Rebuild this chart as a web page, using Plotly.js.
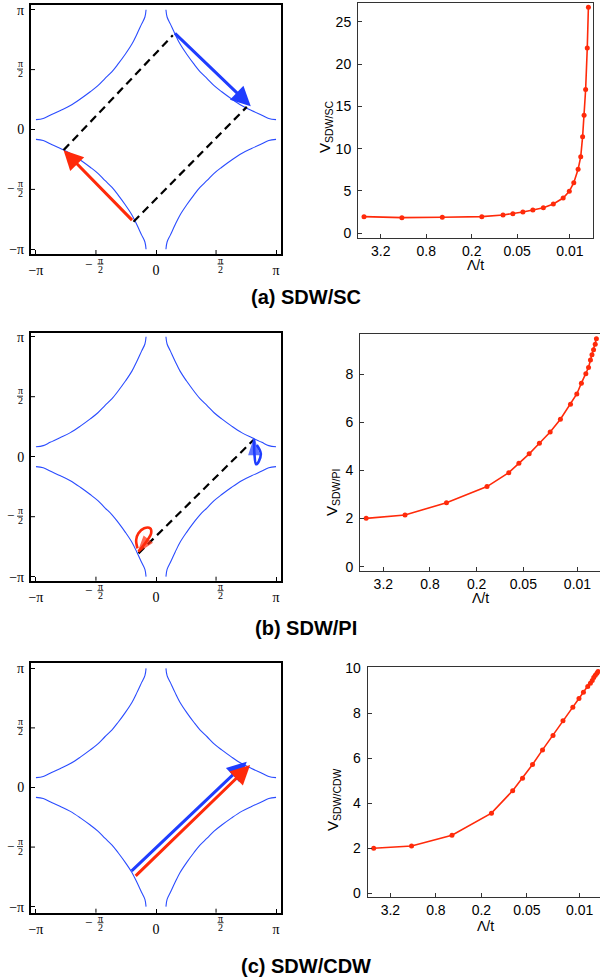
<!DOCTYPE html>
<html><head><meta charset="utf-8">
<script src="https://cdn.plot.ly/plotly-3.0.1.min.js"></script>
<style>body{margin:0;background:#fff}</style>
</head><body><div id="chart" style="width:600px;height:979px"></div>
<script>
// ---- Fermi-surface arc (upper-left quadrant) ----
const arcKx = [-3.14,-2.95,-2.77,-2.50,-2.24,-1.98,-1.72,-1.52,-1.337,-1.15,-0.99,-0.80,-0.63,-0.50,-0.375,-0.29,-0.26];
const arcKy = [0.26,0.29,0.375,0.50,0.63,0.80,0.99,1.15,1.337,1.52,1.72,1.98,2.24,2.50,2.77,2.95,3.14];

// ---- RG flow data ----
const lambdaT = [5.33,1.68,0.49,0.147,0.077,0.057,0.042,0.031,0.0225,0.0166,0.0123,0.0102,0.0089,0.0078,0.0072,0.0068,0.0065,0.0062,0.0059,0.0057];
const vSC  = [1.97,1.85,1.89,1.97,2.17,2.32,2.52,2.76,3.03,3.46,4.17,4.96,5.98,7.56,9.06,11.42,13.94,17.0,21.9,26.7];
const vPI  = [2.01,2.15,2.66,3.33,3.91,4.30,4.69,5.13,5.60,6.13,6.75,7.18,7.63,8.02,8.28,8.59,8.81,9.02,9.25,9.47];
const vCDW = [2.00,2.10,2.58,3.56,4.56,5.11,5.72,6.37,7.01,7.66,8.27,8.65,8.93,9.19,9.33,9.45,9.59,9.69,9.78,9.85];
const lamTickVals = [3.2,0.8,0.2,0.05,0.01];
const lamTickText = ['3.2','0.8','0.2','0.05','0.01'];
const vTicksA = [0,5,10,15,20,25];
const vTicksB = [0,2,4,6,8];
const vTicksC = [0,2,4,6,8,10];

// ---- arrows / nesting vectors (kx, ky) ----
// panel (a)
const aRedFrom = [-0.588,-2.417], aRedTo = [-2.418,-0.541];
const aBlueFrom = [0.457,2.557], aBlueTo = [2.479,0.611];
const aDash1X = [-2.418,0.44], aDash1Y = [-0.541,2.47];
const aDash2X = [-0.588,2.375], aDash2Y = [-2.417,0.593];
// panel (b): curled arrows, last point is the arrow tip
const bDashX = [-0.457,2.549], bDashY = [-2.53,0.436];
const bRedLoopX = [-0.485,-0.519,-0.459,-0.310,-0.153,-0.127,-0.25,-0.459];
const bRedLoopY = [-2.398,-2.181,-2.005,-1.874,-1.874,-2.005,-2.22,-2.487];
const bBlueLoopX = [2.637,2.741,2.690,2.618,2.574,2.566,2.566];
const bBlueLoopY = [0.306,0.089,-0.12,-0.199,0.089,0.30,0.455];
// panel (c)
const cBlueFrom = [-0.676,-2.236], cBlueTo = [2.375,0.681];
const cRedFrom = [-0.571,-2.368], cRedTo = [2.462,0.593];

const PI = Math.PI;
const BLUE = '#1f3dff', RED = '#ff2a0a', FSBLUE = '#2a4cff';
const W = 600, H = 979;
const xd = (a,b)=>[a/W,b/W];
const yd = (top,bot)=>[1-bot/H,1-top/H];

const traces = [];
function fermi(xa, ya){
  const signs = [[1,1],[-1,1],[1,-1],[-1,-1]];
  signs.forEach(s=>{
    traces.push({type:'scatter',mode:'lines',xaxis:xa,yaxis:ya,
      x:arcKx.map(v=>v*s[0]), y:arcKy.map(v=>v*s[1]),
      line:{color:FSBLUE,width:1.1,shape:'spline'},hoverinfo:'skip',showlegend:false});
  });
}
fermi('x','y'); fermi('x3','y3'); fermi('x5','y5');

function dash(xa,ya,X,Y){
  traces.push({type:'scatter',mode:'lines',xaxis:xa,yaxis:ya,x:X,y:Y,
    line:{color:'#000',width:2.2,dash:'8px,5px'},showlegend:false,hoverinfo:'skip'});
}
dash('x','y',aDash1X,aDash1Y); dash('x','y',aDash2X,aDash2Y);
dash('x3','y3',bDashX,bDashY);

function loop(xa,ya,X,Y,color){
  const n = X.length;
  traces.push({type:'scatter',mode:'lines+markers',xaxis:xa,yaxis:ya,x:X,y:Y,
    line:{color:color,width:2.6,shape:'spline',smoothing:1},
    marker:{symbol:'arrow',angleref:'previous',color:color,
      size:X.map((v,i)=>i===n-1?16:0),line:{width:1.5,color:color}},
    showlegend:false,hoverinfo:'skip'});
}
loop('x3','y3',bRedLoopX,bRedLoopY,RED);
loop('x3','y3',bBlueLoopX,bBlueLoopY,BLUE);

function flow(xa,ya,V){
  traces.push({type:'scatter',mode:'lines+markers',xaxis:xa,yaxis:ya,x:lambdaT,y:V,
    line:{color:RED,width:1.6},marker:{color:RED,size:5},showlegend:false,cliponaxis:true});
}
flow('x2','y2',vSC); flow('x4','y4',vPI); flow('x6','y6',vCDW);

const serif = 'Liberation Serif, Times New Roman, serif';
const sans = 'Liberation Sans, Arial, Helvetica, sans-serif';

function leftAxes(xdom, ydom, yr){
  const common = {showgrid:false,zeroline:false,showline:true,mirror:true,linecolor:'#000',linewidth:2,
    ticks:'inside',ticklen:4,tickwidth:1,tickcolor:'#000',
    tickvals:[-PI,0,PI],ticktext:['−π','0','π'],
    tickfont:{family:serif,size:14,color:'#000'},ticklabelstandoff:2,fixedrange:true};
  return [Object.assign({},common,{domain:xdom,range:[-3.27,3.27]}),
          Object.assign({},common,{domain:ydom,range:yr})];
}
function rightAxes(xdom, ydom, xr, yr, yt, closeRight){
  const x = {type:'log',domain:xdom,range:xr,showgrid:false,zeroline:false,showline:true,
    mirror:true,linecolor:'#333',linewidth:1,ticks:'inside',ticklen:4,tickcolor:'#333',
    tickvals:lamTickVals,ticktext:lamTickText,tickfont:{family:sans,size:14,color:'#000'},ticklabelstandoff:0};
  const y = {domain:ydom,range:yr,showgrid:false,zeroline:false,showline:true,
    mirror:closeRight,linecolor:'#333',linewidth:1,ticks:'inside',ticklen:4,tickcolor:'#333',
    tickvals:yt,tickfont:{family:sans,size:14,color:'#000'},ticklabelstandoff:3};
  return [x,y];
}
const [xa1,ya1] = leftAxes(xd(31,281), yd(5,254), [-3.265,3.265]);
const [xa3,ya3] = leftAxes(xd(31,281), yd(333.3,580.7), [-3.246,3.23]);
const [xa5,ya5] = leftAxes(xd(31,281), yd(663.3,912.7), [-3.30,3.273]);
const [xa2,ya2] = rightAxes(xd(358,592.7), yd(2.7,238), [Math.log10(6.4),Math.log10(0.005)], [-0.555,27.25], vTicksA, true);
const [xa4,ya4] = rightAxes(xd(360,600), yd(334.3,570.7), [Math.log10(6.4),Math.log10(0.00512)], [-0.166,9.66], vTicksB, false);
const [xa6,ya6] = rightAxes(xd(367.7,600), yd(667.3,897.3), [Math.log10(6.4),Math.log10(0.00537)], [-0.18,10.04], vTicksC, false);
xa2.anchor='y2'; ya2.anchor='x2'; xa4.anchor='y4'; ya4.anchor='x4'; xa6.anchor='y6'; ya6.anchor='x6';
xa1.anchor='y'; ya1.anchor='x'; xa3.anchor='y3'; ya3.anchor='x3'; xa5.anchor='y5'; ya5.anchor='x5';

const ann = [];
const shapes = [];
function arrow(xa,ya,from,to,color){
  ann.push({xref:xa,yref:ya,axref:xa,ayref:ya,x:to[0],y:to[1],ax:from[0],ay:from[1],
    text:'',showarrow:true,arrowhead:2,arrowsize:1.3,arrowwidth:3,arrowcolor:color,standoff:0,startstandoff:0});
}
arrow('x','y',aRedFrom,aRedTo,RED);
arrow('x','y',aBlueFrom,aBlueTo,BLUE);
arrow('x5','y5',cBlueFrom,cBlueTo,BLUE);
arrow('x5','y5',cRedFrom,cRedTo,RED);

function txt(o){ return Object.assign({showarrow:false,xanchor:'center',yanchor:'middle'},o); }

// stacked-fraction tick labels ±π/2 and their tick marks
function fracs(xa,ya){
  const fnt = {family:serif,size:10,color:'#000'};
  const mfnt = {family:serif,size:13,color:'#000'};
  [-1,1].forEach(s=>{
    const c = s*PI/2;
    shapes.push({type:'line',xref:xa,yref:ya+' domain',ysizemode:'pixel',yanchor:0,x0:c,x1:c,y0:0,y1:4,line:{color:'#000',width:1}});
    shapes.push({type:'line',yref:ya,xref:xa+' domain',xsizemode:'pixel',xanchor:0,y0:c,y1:c,x0:0,x1:4,line:{color:'#000',width:1}});
    ann.push(txt({xref:xa,yref:ya+' domain',x:c,y:0,yshift:-6,xshift:4.5,text:'π',font:fnt}));
    ann.push(txt({xref:xa,yref:ya+' domain',x:c,y:0,yshift:-15,xshift:4.5,text:'2',font:fnt}));
    shapes.push({type:'line',xref:xa,xsizemode:'pixel',xanchor:c,x0:1.5,x1:7.5,
      yref:ya+' domain',ysizemode:'pixel',yanchor:0,y0:-10,y1:-10,line:{color:'#000',width:0.8}});
    if(s<0) ann.push(txt({xref:xa,yref:ya+' domain',x:c,y:0,yshift:-10,xshift:-7,text:'−',font:mfnt}));
    ann.push(txt({xref:xa+' domain',yref:ya,x:0,y:c,xshift:-11,yshift:6,text:'π',font:fnt}));
    ann.push(txt({xref:xa+' domain',yref:ya,x:0,y:c,xshift:-11,yshift:-4,text:'2',font:fnt}));
    shapes.push({type:'line',xref:xa+' domain',xsizemode:'pixel',xanchor:0,x0:-14,x1:-8,
      yref:ya,ysizemode:'pixel',yanchor:c,y0:0.5,y1:0.5,line:{color:'#000',width:0.8}});
    if(s<0) ann.push(txt({xref:xa+' domain',yref:ya,x:0,y:c,xshift:-21,yshift:1,text:'−',font:mfnt}));
  });
}
fracs('x','y'); fracs('x3','y3'); fracs('x5','y5');

function ytitle(sub, xpx, ypx){
  ann.push(txt({xref:'paper',yref:'paper',x:xpx/W,y:1-ypx/H,textangle:-90,
    text:'V<sub>'+sub+'</sub>',font:{family:sans,size:15,color:'#000'}}));
}
ytitle('SDW/SC',325,127); ytitle('SDW/PI',333,493); ytitle('SDW/CDW',333,800);
function xtitle(xpx,ypx){
  ann.push(txt({xref:'paper',yref:'paper',x:xpx/W,y:1-ypx/H,text:'Λ/t',font:{family:sans,size:14,color:'#000'}}));
}
xtitle(475,265); xtitle(480,598); xtitle(485,926);
function ptitle(t,ypx){
  ann.push(txt({xref:'paper',yref:'paper',x:306/W,y:1-ypx/H,text:'<b>'+t+'</b>',font:{family:sans,size:20,color:'#000'}}));
}
ptitle('(a) SDW/SC',297); ptitle('(b) SDW/PI',628); ptitle('(c) SDW/CDW',966);

const layout = {width:W,height:H,margin:{l:0,r:0,t:0,b:0},paper_bgcolor:'#fff',plot_bgcolor:'#fff',
  showlegend:false,
  xaxis:xa1,yaxis:ya1,xaxis2:xa2,yaxis2:ya2,xaxis3:xa3,yaxis3:ya3,
  xaxis4:xa4,yaxis4:ya4,xaxis5:xa5,yaxis5:ya5,xaxis6:xa6,yaxis6:ya6,
  annotations:ann,shapes:shapes};
Plotly.newPlot('chart',traces,layout,{staticPlot:true,displayModeBar:false});
</script></body></html>
